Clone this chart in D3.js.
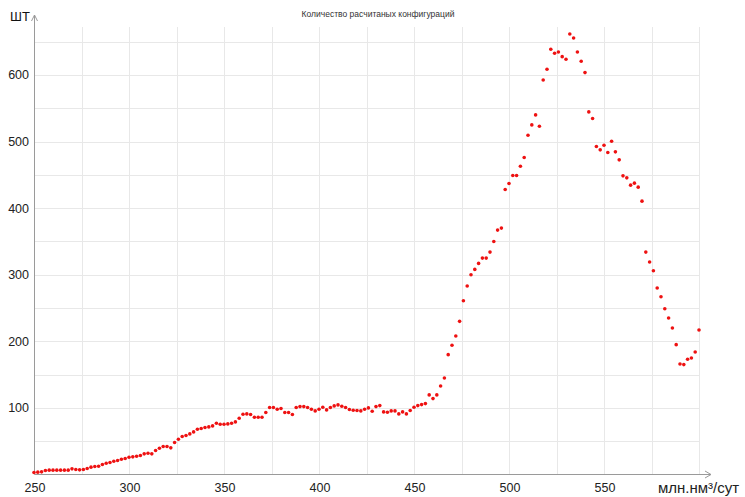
<!DOCTYPE html>
<html>
<head>
<meta charset="utf-8">
<script src="https://cdn.jsdelivr.net/npm/d3@7"></script>
<style>
  body { margin: 0; background: #fff; }
  svg { display: block; font-family: "Liberation Sans", Arial, sans-serif; }
  .grid line { stroke: #e8e8e8; stroke-width: 1; }
  .tick-label { fill: #222; font-size: 12.5px; }
</style>
</head>
<body>
<script>
const width = 745;
const height = 497;

const title = 'Количество расчитаных конфигураций';
const yUnit = 'ШТ';
const xUnit = 'млн.нм³/сут';

// производительность, шаг 2
const flows = [
  250, 252, 254, 256, 258, 260, 262, 264, 266, 268,
  270, 272, 274, 276, 278, 280, 282, 284, 286, 288,
  290, 292, 294, 296, 298, 300, 302, 304, 306, 308,
  310, 312, 314, 316, 318, 320, 322, 324, 326, 328,
  330, 332, 334, 336, 338, 340, 342, 344, 346, 348,
  350, 352, 354, 356, 358, 360, 362, 364, 366, 368,
  370, 372, 374, 376, 378, 380, 382, 384, 386, 388,
  390, 392, 394, 396, 398, 400, 402, 404, 406, 408,
  410, 412, 414, 416, 418, 420, 422, 424, 426, 428,
  430, 432, 434, 436, 438, 440, 442, 444, 446, 448,
  450, 452, 454, 456, 458, 460, 462, 464, 466, 468,
  470, 472, 474, 476, 478, 480, 482, 484, 486, 488,
  490, 492, 494, 496, 498, 500, 502, 504, 506, 508,
  510, 512, 514, 516, 518, 520, 522, 524, 526, 528,
  530, 532, 534, 536, 538, 540, 542, 544, 546, 548,
  550, 552, 554, 556, 558, 560, 562, 564, 566, 568,
  570, 572, 574, 576, 578, 580, 582, 584, 586, 588,
  590, 592, 594, 596, 598, 600
];

// количество конфигураций
const counts = [
  3, 3.5, 4, 6, 6.5, 6.5, 6.5, 6.5, 6.5, 6.5,
  8.5, 7.5, 7, 7.5, 9, 11, 12, 12.5, 15, 17,
  18, 20, 21, 23, 24, 26, 26.5, 27.5, 28.5, 31,
  32, 31, 36, 39.5, 42, 42, 40, 48, 53, 57,
  58.5, 61, 64, 68, 69, 70.5, 71.5, 73, 77, 75.5,
  75.5, 76, 77, 79, 84.5, 90.5, 91, 90, 86, 86,
  86, 93, 100.5, 100.5, 98, 99, 93, 93, 90, 100.5,
  102, 102, 100.5, 98, 95.5, 98, 101, 97, 100.5, 103,
  104.5, 102.5, 100.5, 97.5, 96.5, 96, 95.5, 98, 100, 95,
  102, 103.5, 94, 93.5, 95.5, 95.5, 91, 94, 91, 96,
  101, 103.5, 105, 106.5, 119.5, 114, 119.5, 133, 145, 180,
  194, 208, 230, 261, 283, 300, 308, 317, 325, 325,
  334, 350, 367, 370, 428, 437, 449, 449, 463, 476,
  509.5, 525, 540, 523, 592.5, 608.5, 638.5, 632.5, 634.5, 627.5,
  623.5, 661.5, 655.5, 634.5, 620.5, 603.5, 544.5, 534.5, 492.5, 487.5,
  494.5, 483.5, 500.5, 484.5, 472.5, 448.5, 445.5, 434.5, 437.5, 431.5,
  410.5, 334, 319, 306, 280, 267, 249, 235, 220, 195,
  166, 165, 173, 175, 184, 217
];

const xLabels = [250, 300, 350, 400, 450, 500, 550];
const xGrid = [275, 300, 325, 350, 375, 400, 425, 450, 475, 500, 525, 550, 575, 600];
const yLabels = [100, 200, 300, 400, 500, 600];
const yGrid = [50, 100, 150, 200, 250, 300, 350, 400, 450, 500, 550, 600, 650];

const data = flows.map((f, i) => ({ flow: f, count: counts[i] }));

const x = d3.scaleLinear().domain([250, 600]).range([34, 699]);
const y = d3.scaleLinear().domain([0, 672]).range([474.5, 27]);

const svg = d3.select('body').append('svg')
  .attr('width', width)
  .attr('height', height);

// сетка
const grid = svg.append('g').attr('class', 'grid');
grid.selectAll('.gx')
  .data(xGrid)
  .join('line')
  .attr('class', 'gx')
  .attr('x1', d => Math.round(x(d)) + 0.5)
  .attr('x2', d => Math.round(x(d)) + 0.5)
  .attr('y1', y.range()[1])
  .attr('y2', y(0));
grid.selectAll('.gy')
  .data(yGrid)
  .join('line')
  .attr('class', 'gy')
  .attr('y1', d => Math.round(y(d)) + 0.5)
  .attr('y2', d => Math.round(y(d)) + 0.5)
  .attr('x1', x(250))
  .attr('x2', x(600));

// оси со стрелками
const axisColor = '#9a9a9a';
const x0 = Math.round(x(250)) + 0.5;
const yBase = Math.round(y(0)) - 0.5;
svg.append('line')
  .attr('x1', x0).attr('x2', 711)
  .attr('y1', yBase).attr('y2', yBase)
  .attr('stroke', axisColor);
svg.append('path')
  .attr('d', `M705,${yBase - 3.5}L711,${yBase}L705,${yBase + 3.5}`)
  .attr('fill', 'none')
  .attr('stroke', axisColor);
svg.append('line')
  .attr('x1', x0).attr('x2', x0)
  .attr('y1', yBase).attr('y2', 15)
  .attr('stroke', axisColor);
svg.append('path')
  .attr('d', `M${x0 - 3},21L${x0},15L${x0 + 3},21`)
  .attr('fill', 'none')
  .attr('stroke', axisColor);

// подписи
svg.selectAll('.xl')
  .data(xLabels)
  .join('text')
  .attr('class', 'tick-label xl')
  .attr('x', d => x(d) + 1)
  .attr('y', 492)
  .attr('text-anchor', 'middle')
  .text(d => d);

svg.selectAll('.yl')
  .data(yLabels)
  .join('text')
  .attr('class', 'tick-label yl')
  .attr('x', 29)
  .attr('y', d => y(d) + 4.5)
  .attr('text-anchor', 'end')
  .text(d => d);

svg.append('text')
  .attr('x', 10).attr('y', 21)
  .attr('font-size', 13)
  .attr('fill', '#111')
  .text(yUnit);

svg.append('text')
  .attr('x', 658).attr('y', 493)
  .attr('font-size', 15)
  .attr('fill', '#222')
  .text(xUnit);

svg.append('text')
  .attr('x', 378).attr('y', 17)
  .attr('text-anchor', 'middle')
  .attr('font-size', 8.5)
  .attr('fill', '#333')
  .text(title);

// точки
svg.append('g')
  .selectAll('circle')
  .data(data)
  .join('circle')
  .attr('cx', d => x(d.flow))
  .attr('cy', d => y(d.count))
  .attr('r', 1.8)
  .attr('fill', '#ee1111');
</script>
</body>
</html>
